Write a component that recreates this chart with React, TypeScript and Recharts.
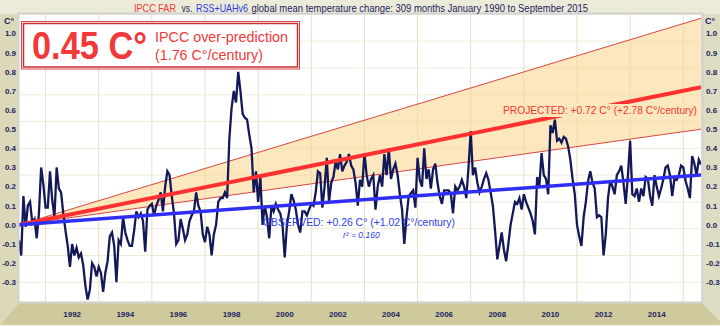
import { ComposedChart, Line, Area, XAxis, YAxis, CartesianGrid } from 'recharts';

// monthly global mean temperature anomaly (C°), RSS+UAHv6 mean, Jan 1990 - Sep 2015
const y1990 = [-0.08, -0.16, 0.15, -0.01, 0.10, 0.12, 0.01, 0.03, -0.07, 0.06, 0.30, 0.21];
const y1991 = [0.09, 0.09, 0.28, 0.13, 0.04, 0.30, 0.19, 0.17, 0.06, -0.03, -0.11, -0.22];
const y1992 = [-0.10, -0.16, -0.12, -0.17, -0.15, -0.21, -0.32, -0.39, -0.34, -0.20, -0.22, -0.27];
const y1993 = [-0.22, -0.25, -0.35, -0.25, -0.19, -0.06, -0.04, -0.11, -0.30, -0.08, -0.10, 0.04];
const y1994 = [-0.04, -0.08, -0.11, -0.11, -0.03, 0.07, 0.04, 0.06, 0.02, -0.14, 0.08, 0.10];
const y1995 = [0.11, 0.05, 0.10, 0.13, 0.17, 0.07, 0.20, 0.28, 0.26, 0.15, 0.06, -0.10];
const y1996 = [-0.08, 0.03, -0.02, -0.08, -0.05, 0.02, 0.05, 0.07, 0.17, 0.10, 0.07, -0.05];
const y1997 = [-0.09, -0.01, -0.05, -0.16, -0.05, 0.00, 0.12, 0.14, 0.14, 0.17, 0.14, 0.45];
const y1998 = [0.61, 0.70, 0.64, 0.80, 0.70, 0.58, 0.56, 0.55, 0.47, 0.40, 0.17, 0.28];
const y1999 = [0.12, 0.25, 0.00, 0.10, 0.04, -0.07, 0.10, 0.07, 0.11, 0.08, 0.06, 0.00];
const y2000 = [-0.17, 0.00, 0.07, 0.16, 0.13, 0.08, 0.00, -0.04, 0.07, 0.07, 0.05, 0.08];
const y2001 = [0.11, 0.10, 0.17, 0.28, 0.27, 0.09, 0.20, 0.35, 0.12, 0.22, 0.25, 0.33];
const y2002 = [0.29, 0.37, 0.28, 0.31, 0.33, 0.37, 0.31, 0.29, 0.22, 0.10, 0.235, 0.20];
const y2003 = [0.375, 0.26, 0.20, 0.24, 0.26, 0.08, 0.20, 0.26, 0.20, 0.37, 0.26, 0.40];
const y2004 = [0.24, 0.29, 0.32, 0.26, 0.16, 0.08, -0.10, 0.04, 0.15, 0.165, 0.18, 0.09];
const y2005 = [0.35, 0.235, 0.20, 0.40, 0.24, 0.29, 0.19, 0.29, 0.32, 0.22, 0.15, 0.11];
const y2006 = [0.18, 0.18, 0.18, 0.165, 0.06, 0.20, 0.18, 0.20, 0.235, 0.20, 0.14, 0.30];
const y2007 = [0.49, 0.26, 0.30, 0.22, 0.17, 0.20, 0.24, 0.27, 0.235, 0.17, 0.10, -0.03];
const y2008 = [-0.18, -0.11, -0.04, -0.13, -0.19, -0.10, 0.00, 0.06, 0.12, 0.11, 0.14, 0.08];
const y2009 = [0.16, 0.12, 0.09, 0.06, 0.02, -0.05, 0.25, 0.20, 0.375, 0.26, 0.24, 0.16];
const y2010 = [0.52, 0.48, 0.55, 0.44, 0.45, 0.43, 0.46, 0.45, 0.41, 0.34, 0.24, 0.16];
const y2011 = [0.00, -0.06, -0.11, 0.04, 0.12, 0.23, 0.28, 0.22, 0.19, 0.04, 0.05, 0.04];
const y2012 = [-0.16, -0.05, 0.14, 0.23, 0.20, 0.16, 0.26, 0.28, 0.31, 0.22, 0.11, 0.26];
const y2013 = [0.44, 0.16, 0.15, 0.19, 0.12, 0.19, 0.15, 0.25, 0.24, 0.15, 0.10, 0.26];
const y2014 = [0.20, 0.15, 0.19, 0.24, 0.30, 0.31, 0.26, 0.15, 0.24, 0.235, 0.26, 0.31];
const y2015 = [0.30, 0.23, 0.19, 0.14, 0.36, 0.32, 0.26, 0.34, 0.315];

const anomalies = [
    ...y1990, ...y1991, ...y1992, ...y1993, ...y1994, ...y1995, ...y1996,
    ...y1997, ...y1998, ...y1999, ...y2000, ...y2001, ...y2002, ...y2003,
    ...y2004, ...y2005, ...y2006, ...y2007, ...y2008, ...y2009, ...y2010,
    ...y2011, ...y2012, ...y2013, ...y2014, ...y2015,
];

// trend end points (month 0 = Jan 1990, month 308 = Sep 2015)
const trendMonths = [0, 308];
const observedTrend = [0, 0.26];
const projectedTrend = [0, 0.72];
const projectedLow = [0, 0.5];
const projectedHigh = [0, 1.08];

const yTicks = [-0.3, -0.2, -0.1, 0, 0.1, 0.2, 0.3, 0.4, 0.5, 0.6, 0.7, 0.8, 0.9, 1.0];
const xTickMonths = [24, 48, 72, 96, 120, 144, 168, 192, 216, 240, 264, 288];
const yearGrid = [0, 12, 24, 36, 48, 60, 72, 84, 96, 108, 120, 132, 144, 156, 168, 180, 192, 204, 216, 228, 240, 252, 264, 276, 288, 300];

const tempGrid = Array.from({ length: 76 }, (_, i) => Math.round((-0.4 + i * 0.02) * 100) / 100);

const lineData = anomalies.map((v, i) => ({ month: i, temp: v }));
const trendData = trendMonths.map((m, i) => ({
    month: m,
    observed: observedTrend[i],
    projected: projectedTrend[i],
    low: projectedLow[i],
    high: projectedHigh[i],
    band: [projectedLow[i], projectedHigh[i]],
}));

const NAVY = '#1B2261';
const FONT = "'Liberation Sans', Arial, sans-serif";
const tickStyle = { fill: NAVY, fontSize: 8, fontWeight: 'bold' as const, fontFamily: FONT };

export default function App() {
    return (
        <div style={{ position: 'absolute', left: 0, top: 0, width: 720, height: 327, background: '#F6F6F2' }}>
            {/* frame / bevel */}
            <svg width={720} height={327} style={{ position: 'absolute', left: 0, top: 0 }}>
                <rect x={0} y={0} width={720} height={325} fill="#ECEAD8" />
                <polygon points="0,14 19,14 19,303 0,325" fill="#DCD9BA" />
                <polygon points="701,14 720,14 720,321 702,303" fill="#DEDCC2" />
                <polygon points="0,325 19,303 702,303 720,321 720,325" fill="#CECA9B" />
            </svg>
            <div style={{ position: 'absolute', left: 0, top: 0 }}>
                <ComposedChart width={720} height={327} data={lineData} margin={{ top: 14.4, right: 0, bottom: 0, left: 0 }}>
                    <CartesianGrid vertical={false} horizontalValues={tempGrid} stroke="#F0ECD9" strokeWidth={1} fill="#FFFFFF" />
                    <CartesianGrid horizontal={false} verticalValues={yearGrid} stroke="#E6E0C2" strokeWidth={1} />
                    <XAxis
                        dataKey="month"
                        type="number"
                        domain={[0, 308]}
                        ticks={xTickMonths}
                        tickFormatter={(m: number) => String(1990 + m / 12)}
                        height={25.6}
                        axisLine={false}
                        tickLine={false}
                        tickSize={0}
                        tickMargin={10}
                        tick={tickStyle}
                        allowDataOverflow
                    />
                    <YAxis
                        domain={[-0.4, 1.1]}
                        ticks={yTicks}
                        tickFormatter={(v: number) => v.toFixed(1)}
                        width={19}
                        axisLine={false}
                        tickLine={false}
                        tickSize={0}
                        tickMargin={3}
                        tick={tickStyle}
                        allowDataOverflow
                    />
                    <YAxis
                        yAxisId="right"
                        orientation="right"
                        domain={[-0.4, 1.1]}
                        ticks={yTicks}
                        tickFormatter={(v: number) => v.toFixed(1)}
                        width={19}
                        axisLine={false}
                        tickLine={false}
                        tickSize={0}
                        tickMargin={5}
                        tick={tickStyle}
                        allowDataOverflow
                    />
                    <Area data={trendData} dataKey="band" type="linear" stroke="none" fill="#FBD48A" fillOpacity={0.55} isAnimationActive={false} />
                    <Line data={trendData} dataKey="low" type="linear" stroke="#D5473F" strokeWidth={1} dot={false} isAnimationActive={false} />
                    <Line data={trendData} dataKey="high" type="linear" stroke="#D5473F" strokeWidth={1} dot={false} isAnimationActive={false} />
                    <Line dataKey="temp" type="linear" stroke="#121858" strokeWidth={2.3} dot={false} isAnimationActive={false} />
                    <Line data={trendData} dataKey="projected" type="linear" stroke="#FF3030" strokeWidth={4} dot={false} isAnimationActive={false} />
                    <Line data={trendData} dataKey="observed" type="linear" stroke="#2E2EF5" strokeWidth={3.5} dot={false} isAnimationActive={false} />
                </ComposedChart>
            </div>
            {/* labels and annotation box */}
            <svg width={720} height={327} style={{ position: 'absolute', left: 0, top: 0, pointerEvents: 'none' }} fontFamily={FONT}>
                <rect x={18.5} y={13.5} width={684} height={289} fill="none" stroke="#D2D2D2" strokeWidth={2} />
                <text x={134} y={11.5} fontSize={10.5} textLength={42} lengthAdjust="spacingAndGlyphs" fill="#F03A3A">IPCC FAR</text>
                <text x={181.5} y={11.5} fontSize={10.5} textLength={11} lengthAdjust="spacingAndGlyphs" fill={NAVY}>vs.</text>
                <text x={196} y={11.5} fontSize={10.5} textLength={52} lengthAdjust="spacingAndGlyphs" fill="#2B3BE0">RSS+UAHv6</text>
                <text x={251.5} y={11.5} fontSize={10.5} textLength={336.5} lengthAdjust="spacingAndGlyphs" fill={NAVY}>global mean temperature change: 309 months January 1990 to September 2015</text>
                <text x={4} y={24} fontSize={9} fontWeight="bold" fill={NAVY}>C°</text>
                <text x={705} y={24} fontSize={9} fontWeight="bold" fill={NAVY}>C°</text>

                <rect x={21.5} y={21.5} width={278} height={47.5} fill="#FFFFFF" stroke="#D54848" strokeWidth={1} />
                <rect x={23.5} y={23.5} width={274} height={43.5} fill="none" stroke="#C83030" strokeWidth={1.5} />
                <text x={32} y={59} fontSize={38} fontWeight="bold" fill="#F23838" textLength={115} lengthAdjust="spacingAndGlyphs">0.45 C°</text>
                <text x={155} y={42} fontSize={15} fill="#F23838" textLength={133} lengthAdjust="spacingAndGlyphs">IPCC over-prediction</text>
                <text x={155} y={60} fontSize={15} fill="#F23838" textLength={108} lengthAdjust="spacingAndGlyphs">(1.76 C°/century)</text>

                <rect x={500} y={104} width={199} height={13} fill="#FCE6BC" />
                <text x={503} y={114} fontSize={10.5} fill="#F23535" textLength={194} lengthAdjust="spacingAndGlyphs">PROJECTED: +0.72 C° (+2.78 C°/century)</text>
                <text x={263} y={226} fontSize={10.5} fill="#2E3AE8" textLength={192} lengthAdjust="spacingAndGlyphs">OBSERVED: +0.26 C° (+1.02 C°/century)</text>
                <text x={343} y={238} fontSize={8.5} fontStyle="italic" fill="#2E3AE8">r² = 0.160</text>
            </svg>
        </div>
    );
}
